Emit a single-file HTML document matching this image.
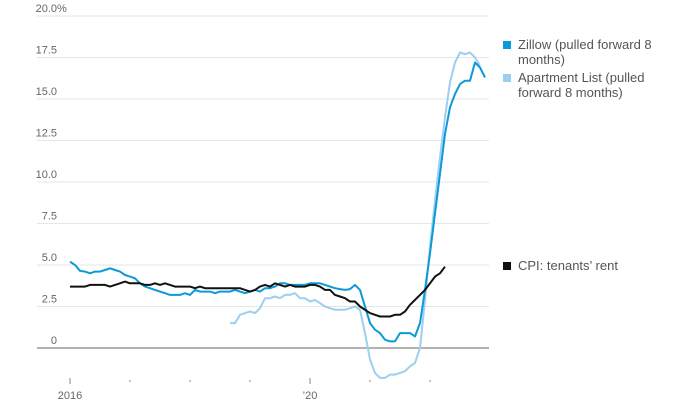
<!DOCTYPE html>
<html><head><meta charset="utf-8"><style>
body{margin:0;background:#fff;}
svg{display:block;font-family:"Liberation Sans",sans-serif;}
</style></head><body>
<svg id="chart" width="692" height="408" viewBox="0 0 692 408" xmlns="http://www.w3.org/2000/svg">
<g id="grid"></g>
<g id="series"></g>
<g font-size="13" fill="#555">
 <g>
  <rect x="503" y="41" width="8" height="8" fill="#0a9ad8"/>
  <text x="518" y="49">Zillow (pulled forward 8</text>
  <text x="518" y="64">months)</text>
 </g>
 <g>
  <rect x="503" y="74" width="8" height="8" fill="#9ccff0"/>
  <text x="518" y="82">Apartment List (pulled</text>
  <text x="518" y="97">forward 8 months)</text>
 </g>
 <g>
  <rect x="503" y="262" width="8" height="8" fill="#111"/>
  <text x="518" y="270">CPI: tenants’ rent</text>
 </g>
</g>
</svg>
<script>
const yTicks=[0,2.5,5,7.5,10,12.5,15,17.5,20];
const yTickLabels=["0","2.5","5.0","7.5","10.0","12.5","15.0","17.5","20.0"];
const xYears=[2016,2017,2018,2019,2020,2021,2022];
const xYearLabels=["2016","","","","’20","",""];
// monthly series, month index 0 = Jan 2016
const zillowStart=0;
const zillow=[5.2,5.0,4.65,4.6,4.5,4.6,4.6,4.7,4.8,4.7,4.6,4.4,4.3,4.2,3.9,3.7,3.6,3.5,3.4,3.3,3.2,3.2,3.2,3.3,3.2,3.5,3.4,3.4,3.4,3.3,3.4,3.4,3.4,3.5,3.4,3.3,3.4,3.5,3.4,3.6,3.6,3.7,3.9,3.9,3.8,3.8,3.8,3.8,3.9,3.9,3.9,3.8,3.7,3.6,3.55,3.5,3.55,3.8,3.5,2.5,1.5,1.1,0.9,0.5,0.4,0.4,0.9,0.9,0.9,0.7,1.5,3.5,5.7,8.1,10.5,12.9,14.5,15.3,15.9,16.1,16.1,17.2,16.9,16.3];
const aptStart=32;
const apt=[1.5,1.5,2.0,2.1,2.2,2.1,2.4,3.0,3.0,3.1,3.0,3.2,3.2,3.3,3.0,3.0,2.8,2.9,2.7,2.5,2.4,2.3,2.3,2.3,2.4,2.5,2.3,0.9,-0.7,-1.5,-1.8,-1.8,-1.6,-1.6,-1.5,-1.4,-1.1,-0.9,0.0,2.9,6.1,8.9,11.5,13.9,16.0,17.2,17.8,17.7,17.8,17.5,17.0];
const cpiStart=0;
const cpi=[3.7,3.7,3.7,3.7,3.8,3.8,3.8,3.8,3.7,3.8,3.9,4.0,3.9,3.9,3.9,3.8,3.8,3.9,3.8,3.9,3.8,3.7,3.7,3.7,3.7,3.6,3.7,3.6,3.6,3.6,3.6,3.6,3.6,3.6,3.6,3.5,3.4,3.5,3.7,3.8,3.7,3.9,3.8,3.7,3.8,3.7,3.7,3.7,3.8,3.8,3.7,3.5,3.5,3.2,3.1,3.0,2.8,2.8,2.5,2.3,2.1,2.0,1.9,1.9,1.9,2.0,2.0,2.2,2.6,2.9,3.2,3.5,3.9,4.3,4.5,4.9];

const NS="http://www.w3.org/2000/svg";
const yS=v=>348-v*16.6;
const xS=m=>70+m*5; // months since Jan 2016
const grid=document.getElementById('grid');
const ser=document.getElementById('series');
function mk(tag,attrs,parent){const e=document.createElementNS(NS,tag);for(const k in attrs)e.setAttribute(k,attrs[k]);parent.appendChild(e);return e;}

yTicks.forEach((t,i)=>{
  const l=mk('line',{x1:37,x2:489,y1:yS(t),y2:yS(t),stroke:t===0?'#999':'#e6e6e6','stroke-width':t===0?1.5:1},grid);
  
  
  const tx=mk('text',{x:57,y:yS(t)-4,'text-anchor':'end','font-size':11,fill:'#666'},grid);
  tx.textContent=yTickLabels[i];
  
  
  if(t===20){const p=mk('text',{x:57,y:yS(t)-4,'font-size':11,fill:'#666'},grid);p.textContent='%';
    
    }
});
xYears.forEach((yr,i)=>{
  const x=xS((yr-2016)*12);
  const big=xYearLabels[i]!=='';
  const tk=mk('line',{x1:x,x2:x,y1:big?378:380,y2:big?384:382,stroke:'#888','stroke-width':1},grid);
  
  
  if(big){const tx=mk('text',{x:x,y:399,'text-anchor':'middle','font-size':11,fill:'#666'},grid);tx.textContent=xYearLabels[i];
    
    }
});
function line(arr,start,color,name){
  const d=arr.map((v,i)=>(i?'L':'M')+xS(start+i).toFixed(1)+','+yS(v).toFixed(1)).join('');
  const p=mk('path',{d:d,fill:'none',stroke:color,'stroke-width':2,'stroke-linejoin':'round'},ser);
  
  
}
line(apt,aptStart,'#9ccff0','apartment-list-line');
line(zillow,zillowStart,'#0a9ad8','zillow-line');
line(cpi,cpiStart,'#111','cpi-line');
</script>
</body></html>
